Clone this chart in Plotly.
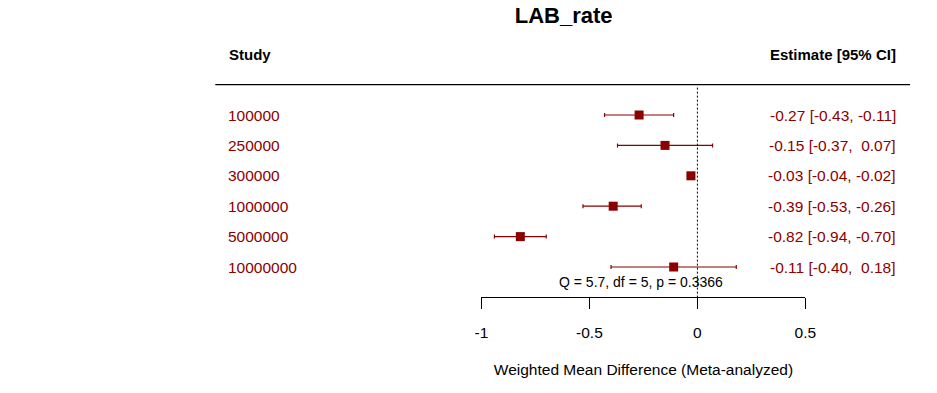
import plotly.graph_objects as go

# ---- data ----
studies = ["100000", "250000", "300000", "1000000", "5000000", "10000000"]
estimates = [-0.27, -0.15, -0.03, -0.39, -0.82, -0.11]
ci_lower = [-0.43, -0.37, -0.04, -0.53, -0.94, -0.40]
ci_upper = [-0.11, 0.07, -0.02, -0.26, -0.70, 0.18]
tick_vals = [-1, -0.5, 0, 0.5]
tick_text = ["-1", "-0.5", "0", "0.5"]
title_text = "LAB_rate"
het_text = "Q = 5.7, df = 5, p = 0.3366"
xlabel = "Weighted Mean Difference (Meta-analyzed)"

W, H = 937, 393
ML, MR = 8, 8
FONT = "Liberation Sans, Arial, Helvetica, sans-serif"
DARKRED = "#8B0000"


def px(p):
    """pixel column -> paper fraction"""
    return (p - ML) / (W - ML - MR)


rows = list(range(1, len(studies) + 1))


def fmt(v):
    s = f"{v:5.2f}"
    return s.replace(" ", "\u00a0")


est_labels = [f"{fmt(e)} [{fmt(l)}, {fmt(u)}]".replace("[\u00a0", "[") for e, l, u in zip(estimates, ci_lower, ci_upper)]

fig = go.Figure()
fig.add_trace(go.Scatter(
    x=estimates, y=rows, mode="markers",
    marker=dict(symbol="square", size=9, color=DARKRED, line=dict(width=0)),
    error_x=dict(type="data", symmetric=False,
                 array=[u - e for e, u in zip(estimates, ci_upper)],
                 arrayminus=[e - l for e, l in zip(estimates, ci_lower)],
                 color=DARKRED, thickness=1.2, width=2),
    showlegend=False, hoverinfo="skip", cliponaxis=False,
))

annotations = []
for r, s, t in zip(rows, studies, est_labels):
    annotations.append(dict(x=px(227), xref="paper", y=r, yref="y", text=s, showarrow=False,
                            xanchor="left", yanchor="middle",
                            font=dict(family=FONT, size=15.5, color=DARKRED)))
    annotations.append(dict(x=px(901), xref="paper", y=r, yref="y", text=t, showarrow=False,
                            xanchor="right", yanchor="middle",
                            font=dict(family=FONT, size=15.5, color=DARKRED)))
annotations.append(dict(x=px(228), xref="paper", y=-1, yref="y", text="<b>Study</b>", showarrow=False,
                        xanchor="left", yanchor="middle", font=dict(family=FONT, size=15, color="black")))
annotations.append(dict(x=px(901), xref="paper", y=-1, yref="y", text="<b>Estimate [95% CI]</b>", showarrow=False,
                        xanchor="right", yanchor="middle", font=dict(family=FONT, size=15, color="black")))
annotations.append(dict(x=px(643.5), xref="paper", y=6.5, yref="y", text=het_text, showarrow=False,
                        xanchor="center", yanchor="middle", font=dict(family=FONT, size=14, color="black")))

shapes = [
    dict(type="line", xref="paper", yref="y", x0=px(216), x1=px(913), y0=0, y1=0,
         line=dict(color="black", width=1.3)),
    dict(type="line", xref="x", yref="y", x0=0, x1=0, y0=0.1, y1=7,
         line=dict(color="black", width=1, dash="2px,2px")),
]

y_top, y_bot = -2.783, 6.987

fig.update_layout(
    width=W, height=H,
    margin=dict(l=ML, r=MR, t=0, b=0),
    paper_bgcolor="white", plot_bgcolor="white",
    title=dict(text=f"<b>{title_text}</b>", x=px(565.5), xanchor="center", y=1 - 15 / H, yanchor="middle",
               xref="paper", yref="paper", font=dict(family=FONT, size=22, color="black")),
    xaxis=dict(domain=[px(483), px(808)], range=[-1, 0.5], showgrid=False, zeroline=False,
               showline=True, linecolor="black", linewidth=1,
               ticks="outside", ticklen=11, tickwidth=1, tickcolor="black",
               tickvals=tick_vals, ticktext=tick_text, ticklabelstandoff=10,
               tickfont=dict(family=FONT, size=15.5, color="black"),
               title=dict(text=xlabel, standoff=24, font=dict(family=FONT, size=15.5, color="black")),
               anchor="y", fixedrange=True),
    yaxis=dict(domain=[1 - 297 / H, 1], range=[y_bot, y_top], visible=False, showgrid=False,
               zeroline=False, fixedrange=True),
    annotations=annotations, shapes=shapes,
)

fig.write_html("out.html", config={"displayModeBar": False},
               post_script="document.body.style.margin='0';document.body.style.overflow='hidden';")
